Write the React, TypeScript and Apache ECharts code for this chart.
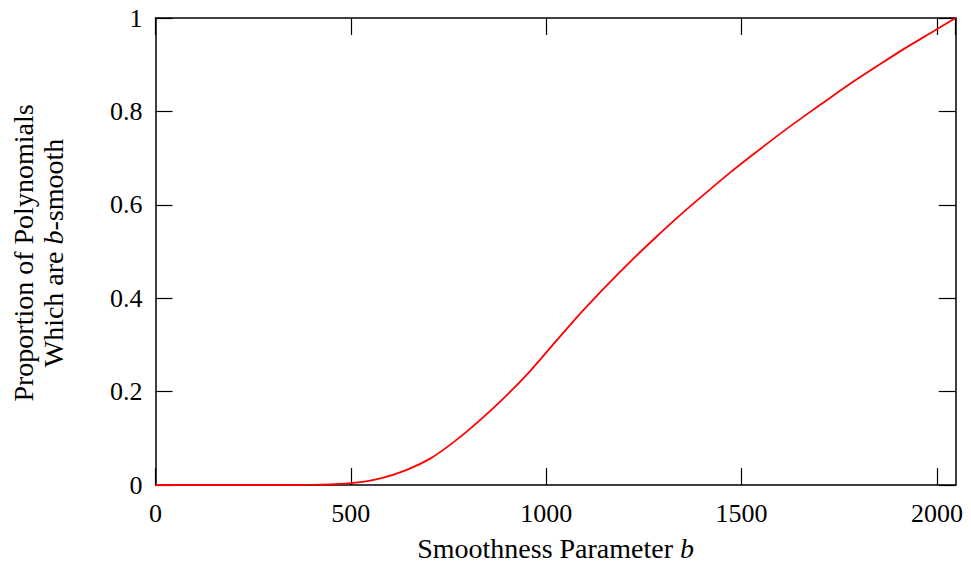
import React, { useEffect, useRef } from "react";
import * as echarts from "echarts";

// Smoothness parameter b (x) and proportion of b-smooth polynomials (y)
const bValues = [
  0, 64, 128, 192, 256, 320, 384, 448, 512, 576, 640, 704, 768, 832, 896, 960, 1024,
  1088, 1152, 1216, 1280, 1344, 1408, 1472, 1536, 1600, 1664, 1728, 1792, 1856, 1920, 1984, 2048,
];
const proportions = [
  0, 0, 0, 0, 0, 0, 0.0002, 0.0012, 0.0049, 0.0144, 0.0315, 0.057, 0.095, 0.14, 0.19, 0.245, 0.307,
  0.368, 0.425, 0.479, 0.53, 0.579, 0.625, 0.67, 0.712, 0.753, 0.792, 0.83, 0.867, 0.902, 0.936, 0.968, 1,
];
const xTicks = [0, 500, 1000, 1500, 2000];
const xMax = 2048;
const yTicks = [0, 0.2, 0.4, 0.6, 0.8, 1];

const FONT = "'Liberation Serif', 'DejaVu Serif', serif";

export default function App() {
  const ref = useRef<HTMLDivElement>(null);
  useEffect(() => {
    if (!ref.current) return;
    const chart = echarts.init(ref.current, undefined, { renderer: "svg" });
    const axisLine = { show: true, onZero: false, lineStyle: { color: "#000", width: 1.5 } };
    const tick = { show: true, inside: true, length: 17, lineStyle: { color: "#000", width: 1.2 } };
    const xCommon = {
      type: "value" as const,
      min: 0,
      max: xMax,
      interval: xTicks[1] - xTicks[0],
      splitLine: { show: false },
      axisLine,
      axisTick: tick,
    };
    const yCommon = {
      type: "value" as const,
      min: yTicks[0],
      max: yTicks[yTicks.length - 1],
      interval: yTicks[1] - yTicks[0],
      splitLine: { show: false },
      axisLine,
      axisTick: tick,
    };
    chart.setOption({
      animation: false,
      backgroundColor: "#fff",
      grid: { left: 155.5, right: 15.3, top: 18, bottom: 79.3, containLabel: false },
      xAxis: [
        {
          ...xCommon,
          position: "bottom",
          name: "Smoothness Parameter {i|b}",
          nameLocation: "middle",
          nameGap: 49,
          nameTextStyle: {
            fontFamily: FONT,
            fontSize: 28,
            color: "#000",
            rich: { i: { fontFamily: FONT, fontSize: 28, fontStyle: "italic", color: "#000" } },
          },
          axisLabel: {
            show: true,
            showMaxLabel: false,
            margin: 15,
            fontFamily: FONT,
            fontSize: 26,
            color: "#000",
            formatter: (v: number) => (xTicks.includes(v) ? String(v) : ""),
          },
        },
        { ...xCommon, position: "top", axisLabel: { show: false } },
      ],
      yAxis: [
        {
          ...yCommon,
          position: "left",
          axisLabel: {
            show: true,
            margin: 13,
            fontFamily: FONT,
            fontSize: 26,
            color: "#000",
            formatter: (v: number) => String(Math.round(v * 10) / 10),
          },
        },
        { ...yCommon, position: "right", axisLabel: { show: false } },
      ],
      graphic: [
        {
          type: "text",
          x: 23,
          y: 253,
          rotation: Math.PI / 2,
          style: {
            text: "Proportion of Polynomials",
            fontFamily: FONT,
            fontSize: 28,
            fill: "#000",
            textAlign: "center",
            textVerticalAlign: "middle",
          },
        },
        {
          type: "text",
          x: 53,
          y: 253,
          rotation: Math.PI / 2,
          style: {
            text: "Which are {i|b}-smooth",
            fontFamily: FONT,
            fontSize: 28,
            fill: "#000",
            textAlign: "center",
            textVerticalAlign: "middle",
            rich: { i: { fontFamily: FONT, fontSize: 28, fontStyle: "italic", fill: "#000" } },
          },
        },
      ],
      series: [
        {
          type: "line",
          xAxisIndex: 0,
          yAxisIndex: 0,
          data: bValues.map((b, i) => [b, proportions[i]]),
          showSymbol: false,
          smooth: 0.25,
          lineStyle: { color: "#ff0000", width: 1.8 },
          z: 1,
        },
      ],
    });
    return () => chart.dispose();
  }, []);
  return (
    <div
      ref={ref}
      style={{ position: "absolute", left: 0, top: 0, width: 971, height: 567, background: "#fff" }}
    />
  );
}
